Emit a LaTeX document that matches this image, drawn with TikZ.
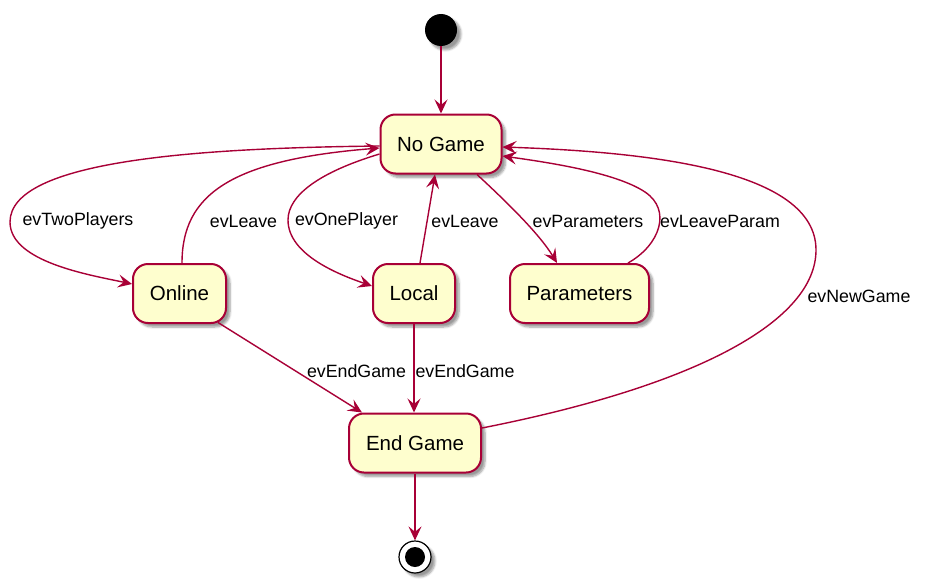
\documentclass[tikz,border=0pt]{standalone}
\usepackage{fontspec}
\setmainfont{Liberation Sans}
\usetikzlibrary{arrows.meta,shadows.blur,calc}

\definecolor{umlred}{RGB}{168,0,54}
\definecolor{umlyellow}{RGB}{254,254,206}

\tikzset{
  umlshadow/.style={blur shadow={shadow xshift=4pt, shadow yshift=-4pt, shadow blur steps=6, shadow opacity=40}},
  state/.style={draw=umlred, fill=umlyellow, line width=2pt, rounded corners=15pt,
    minimum height=59pt, inner sep=0pt, font=\fontsize{20.5}{24}\selectfont, umlshadow},
  evlabel/.style={font=\fontsize{17.8}{21}\selectfont, inner sep=0pt},
  trans/.style={draw=umlred, line width=1.4pt, -{Stealth[length=14pt, width=13pt, inset=5.5pt]}},
}

\begin{document}
\begin{tikzpicture}[x=1pt,y=-1pt]
  \useasboundingbox (0,0) rectangle (933,586);

  % states
  \node[circle, fill=black, minimum size=32pt, inner sep=0pt, umlshadow] (start) at (441,30) {};
  \node[state, minimum width=121pt] (nogame) at (441,144) {No Game};
  \node[state, minimum width=93pt] (online) at (179.5,293.5) {Online};
  \node[state, minimum width=82pt] (local) at (414,293.5) {Local};
  \node[state, minimum width=139pt] (params) at (579.5,293.5) {Parameters};
  \node[state, minimum width=132pt] (endgame) at (415,443) {End Game};
  \node[circle, draw=black, line width=1.2pt, fill=white, minimum size=32pt, inner sep=0pt, umlshadow] (stop) at (415,557) {};
  \node[circle, fill=black, minimum size=20pt, inner sep=0pt] (stopdot) at (stop) {};

  % transitions
  \draw[trans] (start) -- (nogame);
  \draw[trans] ([shift={(0,2)}]nogame.west) .. controls (200,148) and (10,160) .. (10,222)
    .. controls (10,262) and (90,275) .. ([shift={(0,-9.5)}]online.west);
  \draw[trans] ([shift={(2.5,0)}]online.north) .. controls (182,195) and (230,160) .. ([shift={(0,4)}]nogame.west);
  \draw[trans] ([shift={(0,10)}]nogame.west) .. controls (320,172) and (288,195) .. (288,220)
    .. controls (288,255) and (340,275) .. ([shift={(0,-7.5)}]local.west);
  \draw[trans] ([shift={(6,0)}]local.north) -- ([shift={(-6,0)}]nogame.south);
  \draw[trans] ([shift={(36,0)}]nogame.south) .. controls (510,205) and (540,235) .. ([shift={(-22.5,0)}]params.north);
  \draw[trans] ([shift={(48.5,0)}]params.north) .. controls (660,245) and (672,210) .. (645,192)
    .. controls (615,172) and (545,162) .. ([shift={(0,12)}]nogame.east);
  \draw[trans] ([shift={(0,-15)}]endgame.east) .. controls (700,385) and (816,320) .. (816,250)
    .. controls (816,170) and (650,152) .. ([shift={(0,3)}]nogame.east);
  \draw[trans] ([shift={(38.5,-1.5)}]online.south) -- ([shift={(-53,0)}]endgame.north);
  \draw[trans] (local.south) -- (local.south |- endgame.north);
  \draw[trans] (endgame) -- (stop);

  % labels
  \node[evlabel] (lbltwo) at (78,221) {evTwoPlayers};
  \node[evlabel] (lblleaveon) at (243.5,221) {evLeave};
  \node[evlabel] (lblone) at (346.5,221) {evOnePlayer};
  \node[evlabel] (lblleaveloc) at (465,221) {evLeave};
  \node[evlabel] (lblparam) at (588,221) {evParameters};
  \node[evlabel] (lblleaveparam) at (720,221) {evLeaveParam};
  \node[evlabel] (lblnew) at (859,296) {evNewGame};
  \node[evlabel] (lblendon) at (356.5,371) {evEndGame};
  \node[evlabel] (lblendloc) at (465,371) {evEndGame};

\end{tikzpicture}
\end{document}
